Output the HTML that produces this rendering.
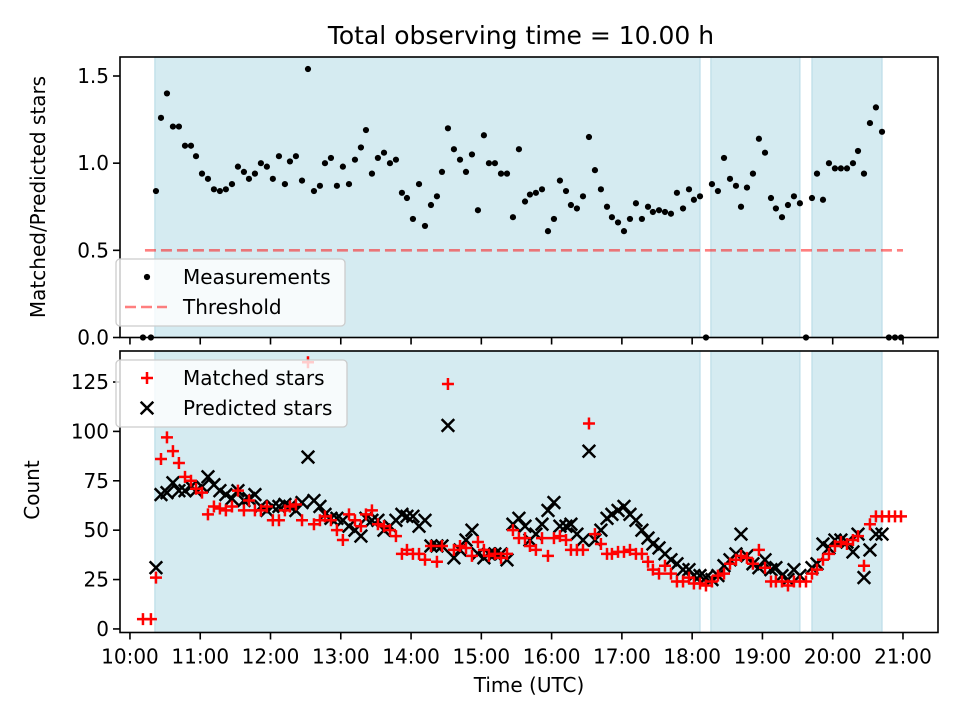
<!DOCTYPE html>
<html><head><meta charset="utf-8"><style>
html,body{margin:0;padding:0;background:#fff;}
svg{display:block;font-family:"DejaVu Sans","Liberation Sans",sans-serif;}
</style></head><body>
<svg id="chart" width="960" height="720" viewBox="0 0 960 720" xmlns="http://www.w3.org/2000/svg">
<rect x="0" y="0" width="960" height="720" fill="#fff"/>
<text x="521" y="44" font-size="25" text-anchor="middle" fill="#000">Total observing time = 10.00 h</text>
<g id="gTop"></g>
<g id="gBot"></g>
<text transform="translate(45,197) rotate(-90)" font-size="20" text-anchor="middle" fill="#000">Matched/Predicted stars</text>
<text transform="translate(39,490) rotate(-90)" font-size="20" text-anchor="middle" fill="#000">Count</text>
<text x="529" y="692" font-size="20" text-anchor="middle" fill="#000">Time (UTC)</text>
</svg>
<script>
// minutes after 10:00 UTC
const times=[11.1,17.9,22.2,26.5,31.6,36.7,41.8,47.0,52.1,56.4,61.5,66.6,71.7,76.8,81.9,87.1,92.2,97.3,101.6,106.7,111.8,116.9,122.0,127.2,132.3,136.6,141.7,146.9,152.0,157.1,162.2,166.5,171.6,176.7,181.8,187.0,192.1,197.2,201.5,206.6,211.7,216.9,222.0,227.1,232.2,236.5,241.6,246.8,
251.9,257.0,262.1,266.4,271.5,276.6,281.8,286.9,292.0,297.1,302.2,306.5,311.6,316.8,321.9,327.0,332.1,337.3,341.5,346.6,351.8,356.9,362.0,367.1,372.3,376.5,381.6,386.8,391.9,397.0,402.1,407.3,411.5,416.7,421.8,426.9,432.0,437.1,442.3,446.5,451.7,456.8,461.9,467.0,472.2,477.3,481.5,486.7,491.8,496.9,502.0,507.2,512.3,517.4,521.7,526.8,531.9,537.0,542.2,547.3,551.5,556.7,561.8,566.9,572.0,577.2,582.3,586.6,591.7,596.8,601.9,607.0,612.2,617.3,621.6,626.7,631.8,636.9,642.1,648.0,653.2,658.3];
const ratio=[0,0,0.84,1.26,1.40,1.21,1.21,1.10,1.10,1.04,0.94,0.91,0.85,0.84,0.85,0.88,0.98,0.95,0.91,0.94,1.00,0.98,0.91,1.04,0.88,1.01,1.04,0.90,1.54,0.84,0.87,1.00,1.03,0.87,0.98,0.88,1.02,1.09,1.19,0.94,1.03,1.06,1.00,1.02,0.83,0.80,0.68,0.88,
0.64,0.76,0.81,0.95,1.20,1.08,1.02,0.95,1.05,0.73,1.16,1.00,1.00,0.94,0.94,0.69,1.08,0.78,0.82,0.83,0.85,0.61,0.68,0.90,0.84,0.76,0.74,0.81,1.15,0.96,0.85,0.75,0.69,0.66,0.61,0.68,0.77,0.68,0.75,0.72,0.73,0.72,0.71,0.83,0.74,0.85,0.79,0.81,0,0.88,0.84,1.03,0.91,0.87,0.75,0.86,0.94,1.14,1.06,0.80,0.74,0.69,0.76,0.81,0.77,0,0.80,0.94,0.79,1.00,0.97,0.97,0.97,1.00,1.07,0.94,1.23,1.32,1.18,0,0,0];
const matched=[5,5,26,86,97,90,84,77,75,71,69,58,62,61,60,62,70,60,65,60,60,62,55,55,60,62,63,55,135,53,55,57,55,50,45,58,55,52,58,60,53,52,50,47,38,40,38,38,
35,42,34,42,124,40,42,41,37,44,40,37,38,36,38,50,46,46,42,40,46,37,46,47,45,40,40,40,104,48,43,38,38,39,39,40,38,38,34,30,28,32,28,24,24,26,23,23,22,24,27,28,33,35,37,36,33,40,31,24,24,24,22,24,24,24,28,30,35,38,42,44,43,45,47,32,53,57,57,57,57,57];
const predicted=[null,null,31,68,69,74,70,70,72,70,72,77,73,70,68,66,70,65,66,68,62,60,62,62,63,62,60,64,87,65,62,58,56,56,55,52,50,47,56,55,55,50,52,55,58,57,57,52,
55,42,42,42,103,36,40,45,50,38,36,38,38,38,35,53,56,52,45,48,53,60,64,52,52,53,48,45,90,45,50,56,58,60,62,58,55,50,46,43,41,38,35,33,30,30,27,27,26,25,27,32,35,38,48,37,33,31,35,30,31,27,25,30,27,null,31,33,43,41,45,45,44,39,48,26,40,48,48,null,null,null];
const spansStart=[21.3,496.0,582.3];
const spansEnd=[486.7,572.0,642.1];
const xTickLabels=["10:00","11:00","12:00","13:00","14:00","15:00","16:00","17:00","18:00","19:00","20:00","21:00"];
const topTicks=[0.0,0.5,1.0,1.5];
const botTicks=[0,25,50,75,100,125];
const threshold=0.5;

const NS="http://www.w3.org/2000/svg";
const X0=120,X1=938,XMIN=-8.5,XMAX=689.9;
const xs=m=>X0+(m-XMIN)/(XMAX-XMIN)*(X1-X0);
const AT={top:57,bot:337.5,min:0,max:1.609};
const AB={top:351,bot:632.5,min:-1.8,max:140.7};
const ys=(ax,v)=>ax.bot-(v-ax.min)/(ax.max-ax.min)*(ax.bot-ax.top);
function mk(tag,attrs,parent){const e=document.createElementNS(NS,tag);for(const k in attrs)e.setAttribute(k,attrs[k]);parent.appendChild(e);return e;}
function drawAxes(g,ax,ticks,fmt,showX,nm){
  for(let i=0;i<spansStart.length;i++){
    const r=mk('rect',{x:xs(spansStart[i]),y:ax.top,width:xs(spansEnd[i])-xs(spansStart[i]),height:ax.bot-ax.top,fill:'#d5ebf1',stroke:'#bcdde8','stroke-width':1.2},g);
    
    
  }
  ticks.forEach(v=>{
    const y=ys(ax,v);
    mk('line',{x1:X0-7,x2:X0,y1:y,y2:y,stroke:'#000','stroke-width':1.6},g);
    const t=mk('text',{x:X0-11,y:y+7,'font-size':20,'text-anchor':'end',fill:'#000'},g);
    t.textContent=fmt(v);
    
    
  });
  xTickLabels.forEach((lab,i)=>{
    const x=xs(i*60);
    mk('line',{x1:x,x2:x,y1:ax.bot,y2:ax.bot+7,stroke:'#000','stroke-width':1.6},g);
    if(showX){const t=mk('text',{x:x,y:ax.bot+31,'font-size':20,'text-anchor':'middle',fill:'#000'},g);t.textContent=lab;
      
      }
  });
}
const gTop=document.getElementById('gTop'),gBot=document.getElementById('gBot');
drawAxes(gTop,AT,topTicks,v=>v.toFixed(1),false,'top');
drawAxes(gBot,AB,botTicks,v=>String(v),true,'bottom');
const th=mk('line',{x1:xs(12.8),x2:xs(660),y1:ys(AT,threshold),y2:ys(AT,threshold),stroke:'#ff0000','stroke-opacity':0.5,'stroke-width':2.6,'stroke-dasharray':'11,5'},gTop);


times.forEach((t,i)=>{
  const c=mk('circle',{cx:xs(t),cy:ys(AT,ratio[i]),r:3.1,fill:'#000'},gTop);
  
  
});
times.forEach((t,i)=>{
  if(predicted[i]==null)return;
  const x=xs(t),y=ys(AB,predicted[i]),s=6.3;
  const p=mk('path',{d:`M${x-s},${y-s}L${x+s},${y+s}M${x-s},${y+s}L${x+s},${y-s}`,stroke:'#000','stroke-width':2.5,fill:'none'},gBot);
  
  
});
times.forEach((t,i)=>{
  const x=xs(t),y=ys(AB,matched[i]),s=6;
  const p=mk('path',{d:`M${x-s},${y}L${x+s},${y}M${x},${y-s}L${x},${y+s}`,stroke:'#ff0000','stroke-width':2.5,fill:'none'},gBot);
  
  
});
[[AT,gTop,'top-axes-frame'],[AB,gBot,'bottom-axes-frame']].forEach(([ax,g,n])=>{
  const f=mk('rect',{x:X0,y:ax.top,width:X1-X0,height:ax.bot-ax.top,fill:'none',stroke:'#000','stroke-width':1.6},g);
  
  
});
function legend(g,y0,w,items,nm){
  const lg=mk('g',{},g);
  
  
  mk('rect',{x:116,y:y0,width:w,height:67,rx:4,fill:'#fff','fill-opacity':0.8,stroke:'#cccccc','stroke-width':1.3},lg);
  items.forEach((it,i)=>{
    const cy=y0+18+i*30;
    it.draw(lg,147,cy);
    const t=mk('text',{x:183,y:cy+7,'font-size':20,fill:'#000'},lg);
    t.textContent=it.label;
    
    
  });
}
legend(gTop,259,229,[
 {label:'Measurements',draw:(g,x,y)=>mk('circle',{cx:x,cy:y,r:3.1,fill:'#000'},g)},
 {label:'Threshold',draw:(g,x,y)=>mk('line',{x1:x-22,x2:x+20,y1:y,y2:y,stroke:'#ff0000','stroke-opacity':0.5,'stroke-width':2.6,'stroke-dasharray':'11,5'},g)}
],'top-legend');
legend(gBot,360,231,[
 {label:'Matched stars',draw:(g,x,y)=>mk('path',{d:`M${x-6},${y}L${x+6},${y}M${x},${y-6}L${x},${y+6}`,stroke:'#ff0000','stroke-width':2.5},g)},
 {label:'Predicted stars',draw:(g,x,y)=>mk('path',{d:`M${x-6.3},${y-6.3}L${x+6.3},${y+6.3}M${x-6.3},${y+6.3}L${x+6.3},${y-6.3}`,stroke:'#000','stroke-width':2.5},g)}
],'bottom-legend');
</script>
</body></html>
